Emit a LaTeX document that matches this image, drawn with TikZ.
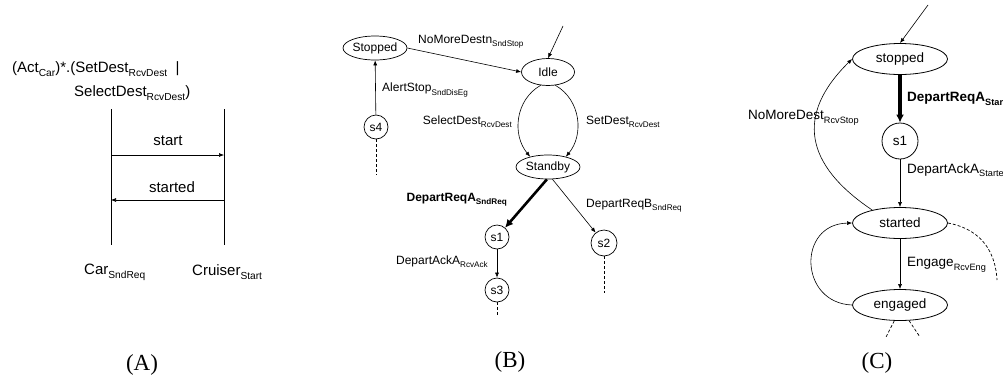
\documentclass[tikz,border=0pt]{standalone}
\usepackage{graphicx}
\usepackage{fontspec}
\setmainfont{Liberation Sans}
\newfontfamily\capfont{Liberation Serif}
\usetikzlibrary{shapes.geometric,arrows.meta}
\newcommand{\lo}[1]{\raisebox{-0.5ex}{\scalebox{0.68}{#1}}}

\begin{document}
\begin{tikzpicture}[x=1pt,y=1pt,
  txtA/.style={font=\fontsize{15}{18}\selectfont, inner sep=0pt},
  txtB/.style={font=\fontsize{12}{14}\selectfont, inner sep=0pt},
  txtC/.style={font=\fontsize{13.5}{16}\selectfont, inner sep=0pt},
  stateB/.style={txtB, draw, ellipse, line width=0.7pt},
  circB/.style={txtB, draw, circle, line width=0.7pt, minimum size=24pt},
  stateC/.style={txtC, draw, ellipse, line width=0.8pt, minimum width=95pt, minimum height=31pt},
  paneltag/.style={font=\capfont\fontsize{23}{26}\selectfont, inner sep=0pt},
  life/.style={line width=0.9pt},
  msg/.style={line width=0.6pt, -{Latex[length=5pt,width=4pt]}},
  tr/.style={line width=0.6pt, -{Latex[length=5pt,width=4pt]}},
  boldtr/.style={line width=2.6pt, -{Latex[length=8pt,width=8pt]}},
  more/.style={line width=0.7pt, dash pattern=on 3pt off 2pt}]
\clip (0,0) rectangle (1003,-381);

% (A) message sequence
\node[txtA, anchor=west] (regex1) at (12,-69) {(Act\lo{Car})*.(SetDest\lo{RcvDest} \ |};
\node[txtA, anchor=west] (regex2) at (74,-93) {SelectDest\lo{RcvDest})};
\coordinate (cartop) at (111,-109);
\coordinate (carbot) at (111,-245);
\coordinate (crutop) at (224,-109);
\coordinate (crubot) at (224,-245);
\draw[life] (cartop) -- (carbot);
\draw[life] (crutop) -- (crubot);
\coordinate (car1) at (111,-155);
\coordinate (cru1) at (224,-155);
\coordinate (car2) at (111,-200);
\coordinate (cru2) at (224,-200);
\draw[msg] (car1) -- (cru1);
\draw[msg] (cru2) -- (car2);
\node[txtA] (startlbl) at (168,-141) {start};
\node[txtA] (startedlbl) at (172,-187) {started};
\node[txtA, anchor=west] (carlbl) at (84,-272) {Car\lo{SndReq}};
\node[txtA, anchor=west] (crulbl) at (192,-272) {Cruiser\lo{Start}};
\node[paneltag] (capA) at (142,-365) {(A)};

% (B) car automaton
\node[stateB, minimum width=64pt, minimum height=24pt] (stopB) at (375,-48) {Stopped};
\node[stateB, minimum width=53pt, minimum height=27pt] (idle) at (548,-72) {Idle};
\node[stateB, minimum width=64pt, minimum height=24pt] (standby) at (548,-167) {Standby};
\node[circB] (s4) at (376,-127) {s4};
\node[circB] (s1B) at (497,-237) {s1};
\node[circB] (s3) at (497,-290) {s3};
\node[circB, minimum size=26pt] (s2) at (604,-243) {s2};
\coordinate (initB) at (563,-26);
\coordinate (s4end) at (376,-175);
\coordinate (s3end) at (497,-317);
\coordinate (s2end) at (604,-293);
\draw[tr] (initB) -- (idle.north);
\draw[tr] (stopB.east) -- (idle.west);
\draw[tr] (s4) -- (stopB);
\draw[more] (s4.south) -- (s4end);
\draw[tr] (idle.241) .. controls (515,-100) and (512,-135) .. (standby.150);
\draw[tr] (idle.299) .. controls (581,-100) and (584,-135) .. (standby.30);
\draw[boldtr] (standby.265) -- (s1B);
\draw[tr] (standby.290) -- (s2);
\draw[tr] (s1B) -- (s3);
\draw[more] (s3.south) -- (s3end);
\draw[more] (s2.south) -- (s2end);
\node[txtB, anchor=west] (nomoreB) at (418,-42) {NoMoreDestn\lo{SndStop}};
\node[txtB, anchor=west] (alert) at (382,-90) {AlertStop\lo{SndDisEg}};
\node[txtB, anchor=east] (selB) at (512,-122) {SelectDest\lo{RcvDest}};
\node[txtB, anchor=west] (setB) at (586,-122) {SetDest\lo{RcvDest}};
\node[txtB, anchor=east, font=\fontsize{12}{14}\selectfont\bfseries] (reqA) at (507,-200) {DepartReqA\lo{SndReq}};
\node[txtB, anchor=west] (reqB) at (586,-206) {DepartReqB\lo{SndReq}};
\node[txtB, anchor=east] (ackB) at (488,-262) {DepartAckA\lo{RcvAck}};
\node[paneltag] (capB) at (510,-362) {(B)};

% (C) cruiser automaton
\node[stateC] (stopC) at (900,-59) {stopped};
\node[txtC, draw, circle, line width=0.8pt, minimum size=36pt] (s1C) at (900,-141) {s1};
\node[stateC] (startedC) at (900,-223) {started};
\node[stateC] (engagedC) at (900,-305) {engaged};
\coordinate (initC) at (928,-5);
\coordinate (goonC) at (997,-280);
\coordinate (engL) at (886,-337);
\coordinate (engR) at (920,-337);
\draw[tr] (initC) -- (stopC.north);
\draw[boldtr, line width=3.2pt] (stopC) -- (s1C);
\draw[tr] (s1C) -- (startedC);
\draw[tr] (startedC) -- (engagedC);
\draw[tr] (engagedC.west) .. controls (799,-303) and (797,-224) .. (startedC.west);
\draw[tr] (startedC.155) .. controls (805,-165) and (795,-115) .. (stopC.west);
\draw[more] (startedC.east) .. controls (975,-228) and (995,-245) .. (goonC);
\draw[more] (engagedC.250) -- (engL);
\draw[more] (engagedC.300) -- (engR);
\node[txtC, anchor=west, font=\fontsize{13.5}{16}\selectfont\bfseries] (reqC) at (907,-99) {DepartReqA\lo{Start}};
\node[txtC, anchor=west] (ackC) at (907,-170) {DepartAckA\lo{Started}};
\node[txtC, anchor=west] (engC) at (907,-265) {Engage\lo{RcvEng}};
\node[txtC, anchor=west] (nomoreC) at (748,-118) {NoMoreDest\lo{RcvStop}};
\node[paneltag] (capC) at (877,-363) {(C)};
\end{tikzpicture}
\end{document}
